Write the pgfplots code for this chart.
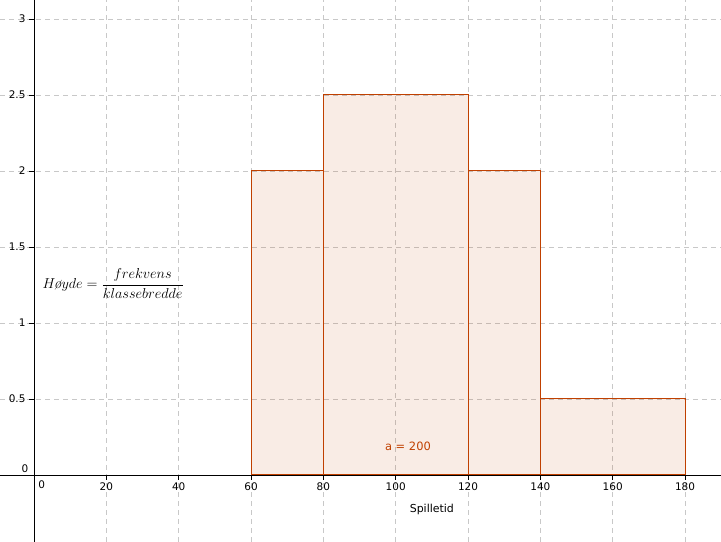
\documentclass[border=0pt]{standalone}
\usepackage{fontspec}
\usepackage{pgfplots}
\pgfplotsset{compat=1.18}
\newfontfamily\ggb{DejaVu Sans}
\definecolor{barc}{RGB}{192,64,0}
\definecolor{gridc}{RGB}{200,200,200}

\begin{document}
\begin{tikzpicture}
\begin{axis}[
  set layers=standard,
  scale only axis, width=721bp, height=542bp,
  xmin=-9.40, xmax=189.95, ymin=-0.4408, ymax=3.125,
  axis lines=middle,
  axis line style={black, line width=0.8bp, -},
  xtick={20,40,...,180}, ytick={0.5,1,...,3},
  grid=major,
  grid style={gridc, dash pattern=on 5bp off 4bp, line width=0.8bp},
  tick style={black, line width=0.8bp},
  major tick length=5bp, tick align=outside,
  ticklabel style={font=\ggb\fontsize{10.5}{12}\selectfont},
  xticklabel style={yshift=1bp},
  /pgf/number format/assume math mode=true,
]
% histogram: class boundaries and heights
\addplot[ybar interval, draw=barc, line width=1bp, fill=barc, fill opacity=0.1]
  coordinates {(60,2) (80,2.5) (120,2) (140,0.5) (180,0.5)};

\node[font=\ggb\fontsize{10.5}{12}\selectfont] at (axis cs:2.1,-0.066) {0};
\node[font=\ggb\fontsize{10.5}{12}\selectfont] at (axis cs:-2.5,0.04) {0};
\node[font=\ggb\fontsize{11.5}{13}\selectfont, text=barc] at (axis cs:103.4,0.19) {a = 200};
\node[font=\ggb\fontsize{11}{13}\selectfont] at (axis cs:110,-0.23) {Spilletid};
\node[font=\fontsize{15.4}{18}\selectfont] at (axis cs:21.9,1.26)
  {$\displaystyle H\mkern-2mu\mbox{\itshape ø}yde=\frac{frekvens}{klassebredde}$};
\end{axis}
\pgfresetboundingbox
\useasboundingbox (current axis.south west) rectangle (current axis.north east);
\end{tikzpicture}
\end{document}
